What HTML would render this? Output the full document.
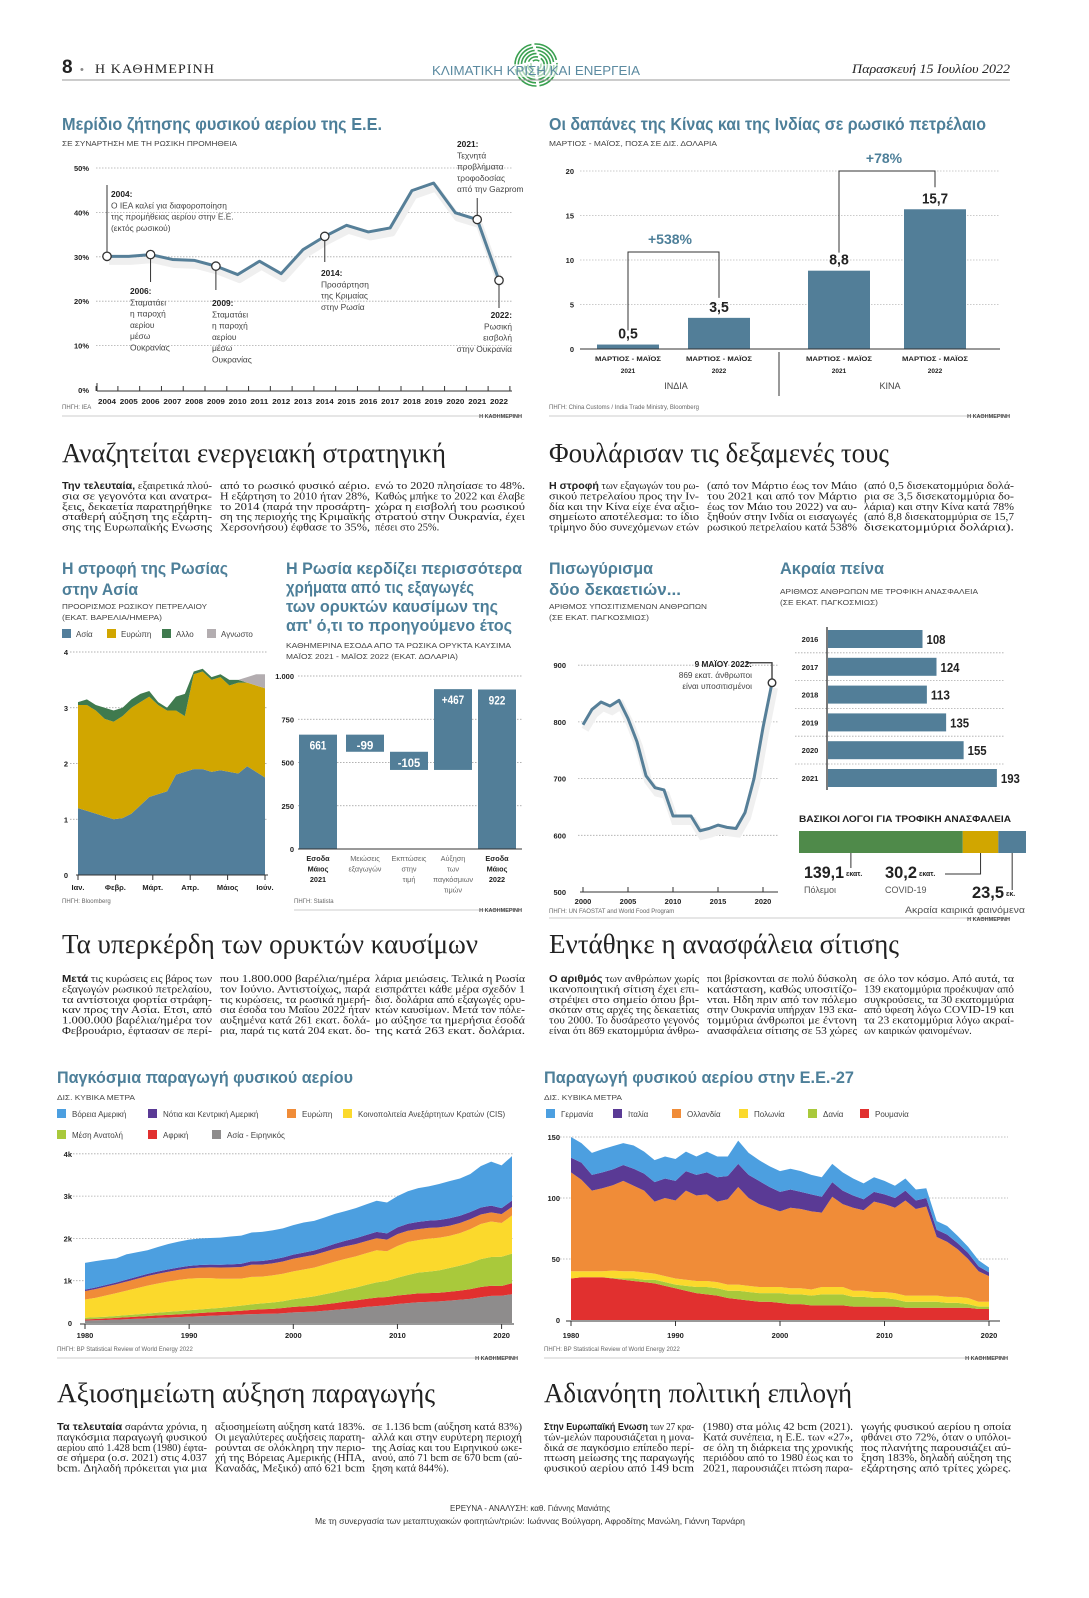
<!DOCTYPE html>
<html lang="el"><head><meta charset="utf-8"><title>Κλιματική κρίση και ενέργεια</title>
<style>
html,body{margin:0;padding:0;background:#fff;}
body{width:1089px;height:1598px;position:relative;overflow:hidden;font-family:"Liberation Sans",sans-serif;}
svg{position:absolute;left:0;top:0;}
</style></head>
<body>
<svg id="page" width="1089" height="1598" viewBox="0 0 1089 1598" xmlns="http://www.w3.org/2000/svg"></svg>
<script>
// ---------- DATA ----------
const euYears = [2004,2005,2006,2007,2008,2009,2010,2011,2012,2013,2014,2015,2016,2017,2018,2019,2020,2021,2022];
const euShare = [30.1,30.1,30.5,29.4,29.2,27.9,26,29,26.2,31.6,34.6,37.1,35.6,36.5,44.9,46.6,39.9,38.4,24.7];
const euTicks = [0,10,20,30,40,50];
const spendCats = ['ΜΑΡΤΙΟΣ - ΜΑΪΟΣ|2021','ΜΑΡΤΙΟΣ - ΜΑΪΟΣ|2022','ΜΑΡΤΙΟΣ - ΜΑΪΟΣ|2021','ΜΑΡΤΙΟΣ - ΜΑΪΟΣ|2022'];
const spendVals = [0.5,3.5,8.8,15.7];
const spendLabels = ['0,5','3,5','8,8','15,7'];
const spendTicks = [0,5,10,15,20];
const asiaVals = [1.2,1.15,1.1,1.05,1.0,1.02,1.1,1.25,1.4,1.45,1.5,1.8,1.85,1.9,1.9,1.85,1.88,1.85,1.82,1.95,1.85,1.75];
const europeVals = [1.85,1.9,1.85,1.75,1.75,1.83,1.9,1.85,1.8,1.6,1.45,1.15,1.0,1.7,1.75,1.65,1.67,1.55,1.63,1.5,1.55,1.6];
const otherVals = [0.05,0.1,0.1,0.2,0.2,0.15,0.15,0.15,0.1,0.05,0.05,0.25,0.4,0.05,0.05,0.05,0.05,0.1,0.05,0,0,0];
const unknownVals = [0,0,0,0,0,0,0,0,0,0,0,0,0,0,0,0,0,0,0,0.1,0.2,0.25];
const monthLabels = ['Ιαν.','Φεβρ.','Μάρτ.','Απρ.','Μάιος','Ιούν.'];
const oilTicks = [0,1,2,3,4];
const wfCats = ['Εσοδα|Μάιος|2021','Μειώσεις|εξαγωγών','Εκπτώσεις|στην|τιμή','Αύξηση|των|παγκόσμιων|τιμών','Εσοδα|Μάιος|2022'];
const wfVals = [661,-99,-105,467,922];
const wfLabels = ['661','-99','-105','+467','922'];
const wfTicks = [0,250,500,750,1000];
const wfTickLabels = ['0','250','500','750','1.000'];
const hungerYears = [2000,2001,2002,2003,2004,2005,2006,2007,2008,2009,2010,2011,2012,2013,2014,2015,2016,2017,2018,2019,2020,2021];
const hungerVals = [795,822,835,828,838,806,765,705,684,680,634,634,634,608,612,618,614,612,640,700,790,869];
const hungerTicks = [500,600,700,800,900];
const acuteYears = ['2016','2017','2018','2019','2020','2021'];
const acuteVals = [108,124,113,135,155,193];
const causeVals = [139.1,30.2,23.5];
const causeLabels = ['139,1','30,2','23,5'];
const gasYears = [1980,1981,1982,1983,1984,1985,1986,1987,1988,1989,1990,1991,1992,1993,1994,1995,1996,1997,1998,1999,2000,2001,2002,2003,2004,2005,2006,2007,2008,2009,2010,2011,2012,2013,2014,2015,2016,2017,2018,2019,2020,2021];
const gasAsiaPac = [60,65,72,80,90,100,110,120,130,140,150,160,170,180,190,200,210,215,220,230,250,260,270,290,310,330,350,380,400,420,450,470,490,500,510,530,550,570,610,640,645,680];
const gasAfrica = [25,30,35,40,45,50,55,60,62,65,70,75,80,82,85,90,100,110,115,125,130,135,140,150,160,175,185,190,200,195,200,205,210,205,205,210,215,230,240,240,230,260];
const gasMidEast = [40,40,42,45,50,55,60,65,70,75,80,85,90,95,110,120,130,140,150,160,180,200,220,240,260,280,300,330,360,380,420,460,490,510,530,560,590,620,660,680,690,700];
const gasCIS = [430,460,500,540,580,620,660,690,720,740,750,740,720,690,660,640,650,630,640,650,660,670,680,700,720,730,740,750,760,700,750,780,770,780,770,760,770,800,830,840,800,900];
const gasEurope = [200,205,210,210,215,220,225,230,230,235,240,250,255,265,270,275,290,285,285,290,300,300,300,300,305,300,290,285,285,275,280,265,260,255,245,240,240,235,225,215,210,205];
const gasSCAm = [35,38,40,42,45,48,50,52,55,58,60,62,64,66,70,75,80,85,90,92,95,100,105,110,120,130,140,145,150,150,160,165,170,170,175,175,170,168,165,160,140,150];
const gasNAm = [630,625,600,570,600,580,560,580,600,610,620,625,630,640,660,665,680,690,690,690,700,710,700,705,705,700,710,725,735,730,740,770,800,810,850,880,880,900,980,1040,1010,1050];
const gasTicks = [0,1000,2000,3000,4000];
const gasTickLabels = ['0','1k','2k','3k','4k'];
const euGasYears = [1980,1981,1982,1983,1984,1985,1986,1987,1988,1989,1990,1991,1992,1993,1994,1995,1996,1997,1998,1999,2000,2001,2002,2003,2004,2005,2006,2007,2008,2009,2010,2011,2012,2013,2014,2015,2016,2017,2018,2019,2020];
const gasRomania = [34,35,35,35,34,33,32,31,30,28,26,24,22,21,20,18,17,16,15,15,14,13,13,12,12,12,12,11,11,11,11,11,10,10,10,10,10,10,10,9,9];
const gasDenmark = [0,0,0,0,0.5,1,2,2,3,3,3,4,5,6,6,6,7,7,7,7,8,8,8,8,9,9,9,8,8,7,7,6,5,5,5,5,4,4,3,2,2];
const gasPoland = [6,5,5,5,6,6,6,6,5,5,5,5,5,5,5,5,5,5,5,5,5,5,5,5,6,6,6,5,5,5,5,5,5,5,5,5,5,5,5,4,4];
const gasNetherlands = [81,75,66,68,70,74,70,67,59,64,64,73,70,71,66,70,80,72,68,65,62,66,65,64,61,74,68,68,66,74,72,70,78,71,73,48,45,39,32,25,21];
const gasItaly = [12,14,13,13,13,13,14,14,16,16,16,16,17,18,20,19,19,19,19,17,16,15,14,14,13,12,11,10,9,8,8,8,8,7,7,6,6,5,5,4,3];
const gasGermany = [17,16,18,19,19,18,19,18,18,18,18,16,15,17,17,16,19,18,17,17,17,17,17,16,16,15,15,14,13,12,11,10,10,9,8,7,7,6,5,5,4];
const euGasTicks = [0,50,100,150];

// ---------- HELPERS ----------
const NS='http://www.w3.org/2000/svg';
const svg=document.getElementById('page');
const SANS='"Liberation Sans Narrow","Liberation Sans",sans-serif';
const SANSW='"Liberation Sans",sans-serif';
const SERIF='"Liberation Serif",serif';
const TEAL='#4d7f99', BAR='#527e98', INK='#222';
function mk(tag,a,parent){const e=document.createElementNS(NS,tag);for(const k in a)e.setAttribute(k,a[k]);(parent||svg).appendChild(e);return e;}
function T(x,y,s,size,o){o=o||{};const a={x:x,y:y,'font-size':size,'font-family':o.f||SANS,fill:o.c||INK};
  if(o.b)a['font-weight']='bold'; if(o.a)a['text-anchor']=o.a; if(o.i)a['font-style']='italic';
  if(o.w){a.textLength=o.w;a.lengthAdjust='spacingAndGlyphs';}
  const e=mk('text',a,o.p);e.textContent=s;return e;}
function grp(name){const g=mk('g',{});return g;}
function hline(x1,x2,y,p,dash,col){return mk('line',{x1:x1,x2:x2,y1:y,y2:y,stroke:col||'#999','stroke-width':dash?0.8:1,'stroke-dasharray':dash?'1.5 1.5':'none'},p);}
function vline(x,y1,y2,p,col,w){return mk('line',{x1:x,x2:x,y1:y1,y2:y2,stroke:col||'#333','stroke-width':w||1},p);}
function para(x,y,lines,p){const g=mk('g',{},p);lines.forEach((l,i)=>{
  const str=Array.isArray(l)?l[0]+l[1]:l;
  const last=(i===lines.length-1)&&str.length<24;
  const a={x:x,y:y+i*10.4,'font-size':10.4,'font-family':SERIF,fill:'#222'};
  if(!last){a.textLength=150;a.lengthAdjust='spacingAndGlyphs';}
  const t=mk('text',a,g);
  if(Array.isArray(l)){const b=mk('tspan',{'font-weight':'bold','font-family':SANS},t);b.textContent=l[0];const r=mk('tspan',{},t);r.textContent=l[1];}else t.textContent=l;});return g;}
function sourceLine(x1,x2,y,src,p){T(x1,y,src,6,{c:'#666',p:p});hline(x1,x2,y+7,p,false,'#ccc');T(x2,y+9,'Η ΚΑΘΗΜΕΡΙΝΗ',5.5,{c:'#444',a:'end',b:true,p:p});}

// ---------- HEADER ----------
const hdr=grp('page-header');
T(62,73,'8',19,{b:true,f:SANSW,p:hdr});
T(80,73,'•',11,{c:'#888',p:hdr});
T(95,73,'Η ΚΑΘΗΜΕΡΙΝΗ',12.5,{f:SERIF,p:hdr,w:120}).setAttribute('letter-spacing','1');
const logo=mk('g',{},hdr);


for(let r=5;r<=22;r+=3.2){mk('circle',{cx:536,cy:65,r:r,fill:'none',stroke:'#3aa050','stroke-width':1.6,'stroke-dasharray':(r*1.4)+' 3'},logo);}
mk('rect',{x:430,y:64,width:212,height:13,fill:'#fff','fill-opacity':0.6},logo);
T(536,75,'ΚΛΙΜΑΤΙΚΗ ΚΡΙΣΗ ΚΑΙ ΕΝΕΡΓΕΙΑ',12.5,{c:'#5b8aa0',a:'middle',p:hdr,w:208});
T(1010,73,'Παρασκευή 15 Ιουλίου 2022',12.5,{f:SERIF,i:true,a:'end',p:hdr,w:158});
hline(62,1010,80,hdr,false,'#999');

// ---------- CHART 1 ----------
(function(){
const g=grp('eu-russian-gas-share-chart');
T(62,130,'Μερίδιο ζήτησης φυσικού αερίου της Ε.Ε.',17.5,{b:true,c:TEAL,f:SANSW,p:g,w:320});
T(62,146,'ΣΕ ΣΥΝΑΡΤΗΣΗ ΜΕ ΤΗ ΡΩΣΙΚΗ ΠΡΟΜΗΘΕΙΑ',7,{c:'#444',p:g,w:175});
const X=y=>107+(y-2004)*(392/18), Y=v=>390-v*4.44;
euTicks.forEach(t=>{ if(t>0) hline(96,512,Y(t),g,true,'#aaa');
  const lb=T(89,Y(t)+3,t+'%',7.5,{b:true,a:'end',p:g}); });
vline(97,383,391,g,'#333'); hline(97,512,391,g,false,'#333');
euYears.forEach(y=>{vline(X(y)+10.9,386,391,g,'#333');
  const lb=T(X(y),404,String(y),7.3,{b:true,a:'middle',p:g,w:18}); });
vline(X(2004)-10.9,386,391,g,'#333');
const pts=euYears.map((y,i)=>X(y)+','+Y(euShare[i])).join(' ');
const sh=mk('polyline',{points:pts,fill:'none',stroke:'#efefef','stroke-width':7,transform:'translate(2,5)','stroke-linejoin':'round'},g);

const ln=mk('polyline',{points:pts,fill:'none',stroke:'#567f98','stroke-width':3,'stroke-linejoin':'round'},g);


const ann=[[2004,185],[2006,282],[2009,290],[2014,262],[2021,198],[2022,308]];
ann.forEach(a=>{const i=euYears.indexOf(a[0]);const cx=X(a[0]),cy=Y(euShare[i]);
  vline(cx,Math.min(cy,a[1]),Math.max(cy,a[1]),g,'#333',1);
  const c=mk('circle',{cx:cx,cy:cy,r:4.2,fill:'#fff',stroke:'#333','stroke-width':1.3},g);
  });
function note(x,y,lines,anchor){lines.forEach((l,i)=>T(x,y+i*11.3,l,8.4,{b:i===0,a:anchor||'start',p:g,c:i===0?'#222':'#444'}));}
note(111,197,['2004:','Ο ΙΕΑ καλεί για διαφοροποίηση','της προμήθειας αερίου στην Ε.Ε.','(εκτός ρωσικού)']);
note(130,294,['2006:','Σταματάει','η παροχή','αερίου','μέσω','Ουκρανίας']);
note(212,306,['2009:','Σταματάει','η παροχή','αερίου','μέσω','Ουκρανίας']);
note(321,276,['2014:','Προσάρτηση','της Κριμαίας','στην Ρωσία']);
note(457,147,['2021:','Τεχνητά','προβλήματα','τροφοδοσίας','από την Gazprom']);
note(512,318,['2022:','Ρωσική','εισβολή','στην Ουκρανία'],'end');
sourceLine(62,522,409,'ΠΗΓΗ: IEA',g);
})();

// ---------- CHART 2 ----------
(function(){
const g=grp('china-india-oil-spending-chart');
T(549,130,'Οι δαπάνες της Κίνας και της Ινδίας σε ρωσικό πετρέλαιο',17.5,{b:true,c:TEAL,f:SANSW,p:g,w:437});
T(549,146,'ΜΑΡΤΙΟΣ - ΜΑΪΟΣ, ΠΟΣΑ ΣΕ ΔΙΣ. ΔΟΛΑΡΙΑ',7,{c:'#444',p:g,w:168});
const Y=v=>349-v*8.9; const cx=[628,719,839,935];
spendTicks.forEach(t=>{ if(t>0) hline(580,1000,Y(t),g,true,'#bbb');
  const lb=T(574,Y(t)+3,String(t),7.5,{b:true,a:'end',p:g}); });
spendVals.forEach((v,i)=>{const r=mk('rect',{x:cx[i]-31,y:Y(v),width:62,height:349-Y(v),fill:BAR},g);
  
  
  T(cx[i],Y(v)-6,spendLabels[i],15,{b:true,a:'middle',p:g,w:spendLabels[i].length*6.5});
  const parts=spendCats[i].split('|');
  T(cx[i],361,parts[0],6.5,{b:true,a:'middle',p:g,w:66});T(cx[i],373,parts[1],6.5,{b:true,a:'middle',p:g});});
hline(580,1000,349,g,false,'#333');
vline(779,352,396,g,'#333');
T(676,389,'ΙΝΔΙΑ',9,{a:'middle',p:g,c:'#444'});T(890,389,'ΚΙΝΑ',9,{a:'middle',p:g,c:'#444'});
mk('polyline',{points:[cx[0]+','+(Y(spendVals[0])-14),cx[0]+','+252,cx[1]+','+252,cx[1]+','+(Y(spendVals[1])-20)].join(' '),fill:'none',stroke:'#333'},g);
T(670,244,'+538%',14,{b:true,a:'middle',c:TEAL,p:g});
mk('polyline',{points:[cx[2]+','+(Y(spendVals[2])-18),cx[2]+','+171,cx[3]+','+171,cx[3]+','+(Y(spendVals[3])-22)].join(' '),fill:'none',stroke:'#333'},g);
T(884,163,'+78%',14,{b:true,a:'middle',c:TEAL,p:g});
sourceLine(549,1010,409,'ΠΗΓΗ: China Customs / India Trade Ministry, Bloomberg',g);
})();

// ---------- SECTION 1 TEXT ----------
(function(){const g=grp('article-energy-strategy');
T(62,462,'Αναζητείται ενεργειακή στρατηγική',27,{f:SERIF,p:g,w:384});
para(62,489,[['Την τελευταία,',' εξαιρετικά πλού-'],'σια σε γεγονότα και ανατρα-','ξεις, δεκαετία παρατηρήθηκε','σταθερή αύξηση της εξάρτη-','σης της Ευρωπαϊκής Ενωσης'],g);
para(220,489,['από το ρωσικό φυσικό αέριο.','Η εξάρτηση το 2010 ήταν 28%,','το 2014 (παρά την προσάρτη-','ση της περιοχής της Κριμαϊκής','Χερσονήσου) έφθασε το 35%,'],g);
para(375,489,['ενώ το 2020 πλησίασε το 48%.','Καθώς μπήκε το 2022 και έλαβε','χώρα η εισβολή του ρωσικού','στρατού στην Ουκρανία, έχει','πέσει στο 25%.'],g);
const g2=grp('article-tanks-full');
T(549,462,'Φουλάρισαν τις δεξαμενές τους',27,{f:SERIF,p:g2,w:340});
para(549,489,[['Η στροφή',' των εξαγωγών του ρω-'],'σικού πετρελαίου προς την Ιν-','δία και την Κίνα είχε ένα αξιο-','σημείωτο αποτέλεσμα: το ίδιο','τρίμηνο δύο συνεχόμενων ετών'],g2);
para(707,489,['(από τον Μάρτιο έως τον Μάιο','του 2021 και από τον Μάρτιο','έως τον Μάιο του 2022) να αυ-','ξηθούν στην Ινδία οι εισαγωγές','ρωσικού πετρελαίου κατά 538%'],g2);
para(864,489,['(από 0,5 δισεκατομμύρια δολά-','ρια σε 3,5 δισεκατομμύρια δο-','λάρια) και στην Κίνα κατά 78%','(από 8,8 δισεκατομμύρια σε 15,7','δισεκατομμύρια δολάρια).'],g2);
})();

// ---------- CHART 3 ----------
(function(){
const g=grp('russia-oil-destinations-chart');
T(62,574,'Η στροφή της Ρωσίας',17,{b:true,c:TEAL,f:SANSW,p:g,w:166});
T(62,595,'στην Ασία',17,{b:true,c:TEAL,f:SANSW,p:g,w:76});
T(62,609,'ΠΡΟΟΡΙΣΜΟΣ ΡΩΣΙΚΟΥ ΠΕΤΡΕΛΑΙΟΥ',7,{c:'#444',p:g,w:145});
T(62,620,'(ΕΚΑΤ. ΒΑΡΕΛΙΑ/ΗΜΕΡΑ)',7,{c:'#444',p:g,w:100});
const leg=[['Ασία','#527e9b',62],['Ευρώπη','#d1a600',107],['Αλλο','#3f7a4e',162],['Αγνωστο','#b3adb0',207]];
leg.forEach(l=>{const r=mk('rect',{x:l[2],y:629,width:9,height:9,fill:l[1]},g);T(l[2]+14,637,l[0],8,{c:'#444',p:g});});
const n=asiaVals.length, X=i=>78+i*(187/(n-1)), Y=v=>875-v*55.75;
oilTicks.forEach(t=>{ if(t>0) hline(70,268,Y(t),g,true,'#999'); T(68,Y(t)+3,String(t),7.5,{b:true,a:'end',p:g});});
const series=[asiaVals,europeVals,otherVals,unknownVals], cols=['#527e9b','#d1a600','#3f7a4e','#b3adb0'], names=['area-asia','area-europe','area-other','area-unknown'];
let base=new Array(n).fill(0);
series.forEach((s,k)=>{const top=base.map((b,i)=>b+s[i]);
  const d='M'+top.map((v,i)=>X(i)+','+Y(v)).join('L')+'L'+base.map((v,i)=>[X(i),Y(v)]).reverse().map(p=>p.join(',')).join('L')+'Z';
  const p=mk('path',{d:d,fill:cols[k]},g);
  
  
  base=top;});
hline(76,268,875,g,false,'#333');
monthLabels.forEach((m,i)=>{const x=78+i*(187/5);vline(x,875,880,g,'#333');T(x,890,m,7.5,{b:true,a:'middle',p:g});});
T(62,903,'ΠΗΓΗ: Bloomberg',6,{c:'#666',p:g});
})();

// ---------- CHART 4 ----------
(function(){
const g=grp('russia-fossil-revenue-waterfall');
['Η Ρωσία κερδίζει περισσότερα','χρήματα από τις εξαγωγές','των ορυκτών καυσίμων της',"απ' ό,τι το προηγούμενο έτος"].forEach((s,i)=>T(286,574+i*19,s,17,{b:true,c:TEAL,f:SANSW,p:g,w:[236,188,212,226][i]}));
T(286,648,'ΚΑΘΗΜΕΡΙΝΑ ΕΣΟΔΑ ΑΠΟ ΤΑ ΡΩΣΙΚΑ ΟΡΥΚΤΑ ΚΑΥΣΙΜΑ',7,{c:'#444',p:g,w:225});
T(286,659,'ΜΑΪΟΣ 2021 - ΜΑΪΟΣ 2022 (ΕΚΑΤ. ΔΟΛΑΡΙΑ)',7,{c:'#444',p:g,w:172});
const Y=v=>849-v*0.173; const cx=[318,365,409,453,497];
wfTicks.forEach((t,i)=>{ if(t>0) hline(298,522,Y(t),g,true,'#999'); T(294,Y(t)+3,wfTickLabels[i],7.5,{b:true,a:'end',p:g});});
let run=0;
wfVals.forEach((v,i)=>{let y0,y1;
  if(i===0||i===wfVals.length-1){y0=0;y1=v;run=v;} else {y0=run;y1=run+v;run=y1;}
  const top=Math.max(y0,y1),bot=Math.min(y0,y1);
  const r=mk('rect',{x:cx[i]-19,y:Y(top),width:38,height:Y(bot)-Y(top),fill:BAR},g);
  
  
  T(cx[i],Y(top)+15,wfLabels[i],12,{b:true,a:'middle',c:'#fff',p:g,w:wfLabels[i].length*5.6});
  wfCats[i].split('|').forEach((s,j)=>T(cx[i],861+j*10.5,s,7.3,{a:'middle',b:(i===0||i===4),c:(i===0||i===4)?'#222':'#666',p:g}));});
hline(298,522,849,g,false,'#333');
T(294,903,'ΠΗΓΗ: Statista',6,{c:'#666',p:g});
hline(294,522,910,g,false,'#ccc');T(522,912,'Η ΚΑΘΗΜΕΡΙΝΗ',5.5,{b:true,a:'end',c:'#444',p:g});
})();

// ---------- CHART 5 ----------
(function(){
const g=grp('undernourished-line-chart');
T(549,574,'Πισωγύρισμα',17,{b:true,c:TEAL,f:SANSW,p:g,w:104});
T(549,595,'δύο δεκαετιών...',17,{b:true,c:TEAL,f:SANSW,p:g,w:132});
T(549,609,'ΑΡΙΘΜΟΣ ΥΠΟΣΙΤΙΣΜΕΝΩΝ ΑΝΘΡΩΠΩΝ',7,{c:'#444',p:g,w:158});
T(549,620,'(ΣΕ ΕΚΑΤ. ΠΑΓΚΟΣΜΙΩΣ)',7,{c:'#444',p:g,w:100});
const X=y=>583+(y-2000)*9.0, Y=v=>892-(v-500)*0.567;
hungerTicks.forEach(t=>{ if(t>500) hline(578,778,Y(t),g,true,'#aaa'); T(566,Y(t)+3,String(t),7.5,{b:true,a:'end',p:g});});
hline(580,778,892,g,false,'#333');
[2000,2005,2010,2015,2020].forEach(y=>{vline(X(y),887,892,g,'#333');T(X(y),904,String(y),7.5,{b:true,a:'middle',p:g});});
const pts=hungerYears.map((y,i)=>X(y)+','+Y(hungerVals[i])).join(' ');
mk('polyline',{points:pts,fill:'none',stroke:'#f0f0f0','stroke-width':8,transform:'translate(2,5)'},g);
const ln=mk('polyline',{points:pts,fill:'none',stroke:'#567f98','stroke-width':3,'stroke-linejoin':'round'},g);


const li=hungerVals.length-1, ex=X(hungerYears[li]), ey=Y(hungerVals[li]);
mk('polyline',{points:[(ex-26)+','+(ey-20),(ex)+','+(ey-20),ex+','+(ey-4)].join(' '),fill:'none',stroke:'#333','stroke-width':1.3},g);
mk('circle',{cx:ex,cy:ey,r:3.8,fill:'#fff',stroke:'#333','stroke-width':1.4},g);
T(752,667,'9 ΜΑΪΟΥ 2022:',8.3,{b:true,a:'end',p:g});
T(752,678,'869 εκατ. άνθρωποι',8.3,{a:'end',c:'#444',p:g});
T(752,689,'είναι υποσιτισμένοι',8.3,{a:'end',c:'#444',p:g});
T(549,913,'ΠΗΓΗ: UN FAOSTAT and World Food Program',6,{c:'#666',p:g});
})();

// ---------- CHART 6 ----------
(function(){
const g=grp('acute-hunger-chart');
T(780,574,'Ακραία πείνα',17,{b:true,c:TEAL,f:SANSW,p:g,w:104});
T(780,594,'ΑΡΙΘΜΟΣ ΑΝΘΡΩΠΩΝ ΜΕ ΤΡΟΦΙΚΗ ΑΝΑΣΦΑΛΕΙΑ',7,{c:'#444',p:g,w:198});
T(780,605,'(ΣΕ ΕΚΑΤ. ΠΑΓΚΟΣΜΙΩΣ)',7,{c:'#444',p:g,w:98});
const X=v=>v*0.875; const yc=i=>639+i*27.8; const x0=828;
acuteVals.forEach((v,i)=>{
  if(i>0) hline(795,1005,yc(i)-14,g,true,'#aaa');
  T(810,yc(i)+3,acuteYears[i],7.5,{b:true,a:'middle',p:g});
  const r=mk('rect',{x:x0,y:yc(i)-9,width:X(v),height:18,fill:BAR},g);
  
  
  T(x0+X(v)+4,yc(i)+5,String(v),12.5,{b:true,p:g,w:19});});
vline(827,627,790,g,'#333',1.3);
T(799,822,'ΒΑΣΙΚΟΙ ΛΟΓΟΙ ΓΙΑ ΤΡΟΦΙΚΗ ΑΝΑΣΦΑΛΕΙΑ',9.5,{b:true,p:g,w:212});
const total=causeVals.reduce((a,b)=>a+b,0), W=227, cols=['#4f8a4a','#d1a600','#527e98'];
let x=799; const mids=[];
causeVals.forEach((v,i)=>{const w=v/total*W;const r=mk('rect',{x:x,y:831,width:w,height:22,fill:cols[i]},g);
  
  
  mids.push(x+w/2);x+=w;});
vline(mids[0]-30,853,868,g,'#333');
T(804,878,causeLabels[0],17,{b:true,p:g,w:40});T(846,876,'εκατ.',7,{b:true,p:g});
T(804,893,'Πόλεμοι',9,{c:'#555',p:g});
T(885,878,causeLabels[1],17,{b:true,p:g,w:32});T(919,876,'εκατ.',7,{b:true,p:g});
mk('polyline',{points:[(945)+','+874,mids[1]+','+874,mids[1]+','+853].join(' '),fill:'none',stroke:'#333'},g);
T(885,893,'COVID-19',9,{c:'#555',p:g});
vline(mids[2],853,890,g,'#333');
T(972,898,causeLabels[2],17,{b:true,p:g,w:32});T(1006,896,'εκ.',7,{b:true,p:g});
T(905,913,'Ακραία καιρικά φαινόμενα',9,{c:'#555',p:g,w:120});
hline(549,1010,918,g,false,'#ccc');T(1010,921,'Η ΚΑΘΗΜΕΡΙΝΗ',5.5,{b:true,a:'end',c:'#444',p:g});
})();

// ---------- SECTION 2 TEXT ----------
(function(){const g=grp('article-fossil-profits');
T(62,953,'Τα υπερκέρδη των ορυκτών καυσίμων',27,{f:SERIF,p:g,w:416});
para(62,982,[['Μετά',' τις κυρώσεις εις βάρος των'],'εξαγωγών ρωσικού πετρελαίου,','τα αντίστοιχα φορτία στράφη-','καν προς την Ασία. Ετσι, από','1.000.000 βαρέλια/ημέρα τον','Φεβρουάριο, έφτασαν σε περί-'],g);
para(220,982,['που 1.800.000 βαρέλια/ημέρα','τον Ιούνιο. Αντιστοίχως, παρά','τις κυρώσεις, τα ρωσικά ημερή-','σια έσοδα του Μαΐου 2022 ήταν','αυξημένα κατά 261 εκατ. δολά-','ρια, παρά τις κατά 204 εκατ. δο-'],g);
para(375,982,['λάρια μειώσεις. Τελικά η Ρωσία','εισπράττει κάθε μέρα σχεδόν 1','δισ. δολάρια από εξαγωγές ορυ-','κτών καυσίμων. Μετά τον πόλε-','μο αύξησε τα ημερήσια έσοδά','της κατά 263 εκατ. δολάρια.'],g);
const g2=grp('article-food-insecurity');
T(549,953,'Εντάθηκε η ανασφάλεια σίτισης',27,{f:SERIF,p:g2,w:350});
para(549,982,[['Ο αριθμός',' των ανθρώπων χωρίς'],'ικανοποιητική σίτιση έχει επι-','στρέψει στο σημείο όπου βρι-','σκόταν στις αρχές της δεκαετίας','του 2000. Το δυσάρεστο γεγονός','είναι ότι 869 εκατομμύρια άνθρω-'],g2);
para(707,982,['ποι βρίσκονται σε πολύ δύσκολη','κατάσταση, καθώς υποσιτίζο-','νται. Ηδη πριν από τον πόλεμο','στην Ουκρανία υπήρχαν 193 εκα-','τομμύρια άνθρωποι με έντονη','ανασφάλεια σίτισης σε 53 χώρες'],g2);
para(864,982,['σε όλο τον κόσμο. Από αυτά, τα','139 εκατομμύρια προέκυψαν από','συγκρούσεις, τα 30 εκατομμύρια','από ύφεση λόγω COVID-19 και','τα 23 εκατομμύρια λόγω ακραί-','ων καιρικών φαινομένων.'],g2);
})();

function stacked(g,xs,series,cols,names,X,Y){let base=new Array(xs.length).fill(0);
  series.forEach((s,k)=>{const top=base.map((b,i)=>b+s[i]);
    const d='M'+top.map((v,i)=>X(xs[i])+','+Y(v)).join('L')+'L'+base.map((v,i)=>X(xs[i])+','+Y(v)).reverse().join('L')+'Z';
    const p=mk('path',{d:d,fill:cols[k]},g);
    
    
    base=top;});}

// ---------- CHART 7 ----------
(function(){
const g=grp('world-gas-production-chart');
T(57,1083,'Παγκόσμια παραγωγή φυσικού αερίου',17,{b:true,c:TEAL,f:SANSW,p:g,w:296});
T(57,1100,'ΔΙΣ. ΚΥΒΙΚΑ ΜΕΤΡΑ',7,{c:'#444',p:g,w:78});
const cols=['#8e8c8c','#e1302f','#a9c93b','#fbd92c','#f08c38','#5a3a95','#4c9fe0'];
const leg=[['Βόρεια Αμερική',6,57,1109],['Νότια και Κεντρική Αμερική',5,148,1109],['Ευρώπη',4,287,1109],['Κοινοπολιτεία Ανεξάρτητων Κρατών (CIS)',3,343,1109],['Μέση Ανατολή',2,57,1130],['Αφρική',1,148,1130],['Ασία - Ειρηνικός',0,212,1130]];
leg.forEach(l=>{const r=mk('rect',{x:l[2],y:l[3],width:9,height:9,fill:cols[l[1]]},g);T(l[2]+15,l[3]+8,l[0],8,{c:'#444',p:g});});
const X=y=>85+(y-1980)*(427/41), Y=v=>1323-v*0.0423;
gasTicks.forEach((t,i)=>{ if(t>0) hline(70,514,Y(t),g,true,'#aaa'); T(72,Y(t)+3,gasTickLabels[i],7.5,{b:true,a:'end',p:g});});
stacked(g,gasYears,[gasAsiaPac,gasAfrica,gasMidEast,gasCIS,gasEurope,gasSCAm,gasNAm],cols,['area-asia-pacific','area-africa','area-middle-east','area-cis','area-europe','area-south-central-america','area-north-america'],X,Y);
hline(80,514,1324,g,false,'#333');
[1980,1990,2000,2010,2020].forEach(y=>{vline(X(y),1324,1329,g,'#333');T(X(y),1338,String(y),7.5,{b:true,a:'middle',p:g});});
sourceLine(57,518,1351,'ΠΗΓΗ: BP Statistical Review of World Energy 2022',g);
})();

// ---------- CHART 8 ----------
(function(){
const g=grp('eu27-gas-production-chart');
T(544,1083,'Παραγωγή φυσικού αερίου στην Ε.Ε.-27',17,{b:true,c:TEAL,f:SANSW,p:g,w:310});
T(544,1100,'ΔΙΣ. ΚΥΒΙΚΑ ΜΕΤΡΑ',7,{c:'#444',p:g,w:78});
const cols=['#e1302f','#a9c93b','#fbd92c','#f08c38','#5a3a95','#4c9fe0'];
const leg=[['Γερμανία',5,546],['Ιταλία',4,613],['Ολλανδία',3,672],['Πολωνία',2,739],['Δανία',1,808],['Ρουμανία',0,860]];
leg.forEach(l=>{const r=mk('rect',{x:l[2],y:1109,width:9,height:9,fill:cols[l[1]]},g);T(l[2]+15,1117,l[0],8,{c:'#444',p:g});});
const X=y=>571+(y-1980)*(418/40), Y=v=>1320-v*1.22;
euGasTicks.forEach(t=>{ if(t>0) hline(560,1008,Y(t),g,true,'#aaa'); T(560,Y(t)+3,String(t),7.5,{b:true,a:'end',p:g});});
stacked(g,euGasYears,[gasRomania,gasDenmark,gasPoland,gasNetherlands,gasItaly,gasGermany],cols,['area-romania','area-denmark','area-poland','area-netherlands','area-italy','area-germany'],X,Y);
hline(566,1000,1321,g,false,'#333');
[1980,1990,2000,2010,2020].forEach(y=>{vline(X(y),1321,1326,g,'#333');T(X(y),1338,String(y),7.5,{b:true,a:'middle',p:g});});
sourceLine(544,1008,1351,'ΠΗΓΗ: BP Statistical Review of World Energy 2022',g);
})();

// ---------- SECTION 3 TEXT ----------
(function(){const g=grp('article-production-growth');
T(57,1402,'Αξιοσημείωτη αύξηση παραγωγής',27,{f:SERIF,p:g,w:378});
para(57,1430,[['Τα τελευταία',' σαράντα χρόνια, η'],'παγκόσμια παραγωγή φυσικού','αερίου από 1.428 bcm (1980) έφτα-','σε σήμερα (ο.σ. 2021) στις 4.037','bcm. Δηλαδή πρόκειται για μια'],g);
para(215,1430,['αξιοσημείωτη αύξηση κατά 183%.','Οι μεγαλύτερες αυξήσεις παρατη-','ρούνται σε ολόκληρη την περιο-','χή της Βόρειας Αμερικής (ΗΠΑ,','Καναδάς, Μεξικό) από 621 bcm'],g);
para(372,1430,['σε 1.136 bcm (αύξηση κατά 83%)','αλλά και στην ευρύτερη περιοχή','της Ασίας και του Ειρηνικού ωκε-','ανού, από 71 bcm σε 670 bcm (αύ-','ξηση κατά 844%).'],g);
const g2=grp('article-policy-choice');
T(544,1402,'Αδιανόητη πολιτική επιλογή',27,{f:SERIF,p:g2,w:308});
para(544,1430,[['Στην Ευρωπαϊκή Ενωση',' των 27 κρα-'],'τών-μελών παρουσιάζεται η μονα-','δικά σε παγκόσμιο επίπεδο περί-','πτωση μείωσης της παραγωγής','φυσικού αερίου από 149 bcm'],g2);
para(703,1430,['(1980) στα μόλις 42 bcm (2021).','Κατά συνέπεια, η Ε.Ε. των «27»,','σε όλη τη διάρκεια της χρονικής','περιόδου από το 1980 έως και το','2021, παρουσιάζει πτώση παρα-'],g2);
para(861,1430,['γωγής φυσικού αερίου η οποία','φθάνει στο 72%, όταν ο υπόλοι-','πος πλανήτης παρουσιάζει αύ-','ξηση 183%, δηλαδή αύξηση της','εξάρτησης από τρίτες χώρες.'],g2);
})();

// ---------- FOOTER ----------
(function(){const g=grp('credits-footer');
T(530,1511,'ΕΡΕΥΝΑ - ΑΝΑΛΥΣΗ: καθ. Γιάννης Μανιάτης',8,{a:'middle',p:g,c:'#333'});
T(530,1524,'Με τη συνεργασία των μεταπτυχιακών φοιτητών/τριών: Ιωάννας Βούλγαρη, Αφροδίτης Μανώλη, Γιάννη Ταρνάρη',8,{a:'middle',p:g,c:'#333',w:430});
})();
</script>
</body></html>
